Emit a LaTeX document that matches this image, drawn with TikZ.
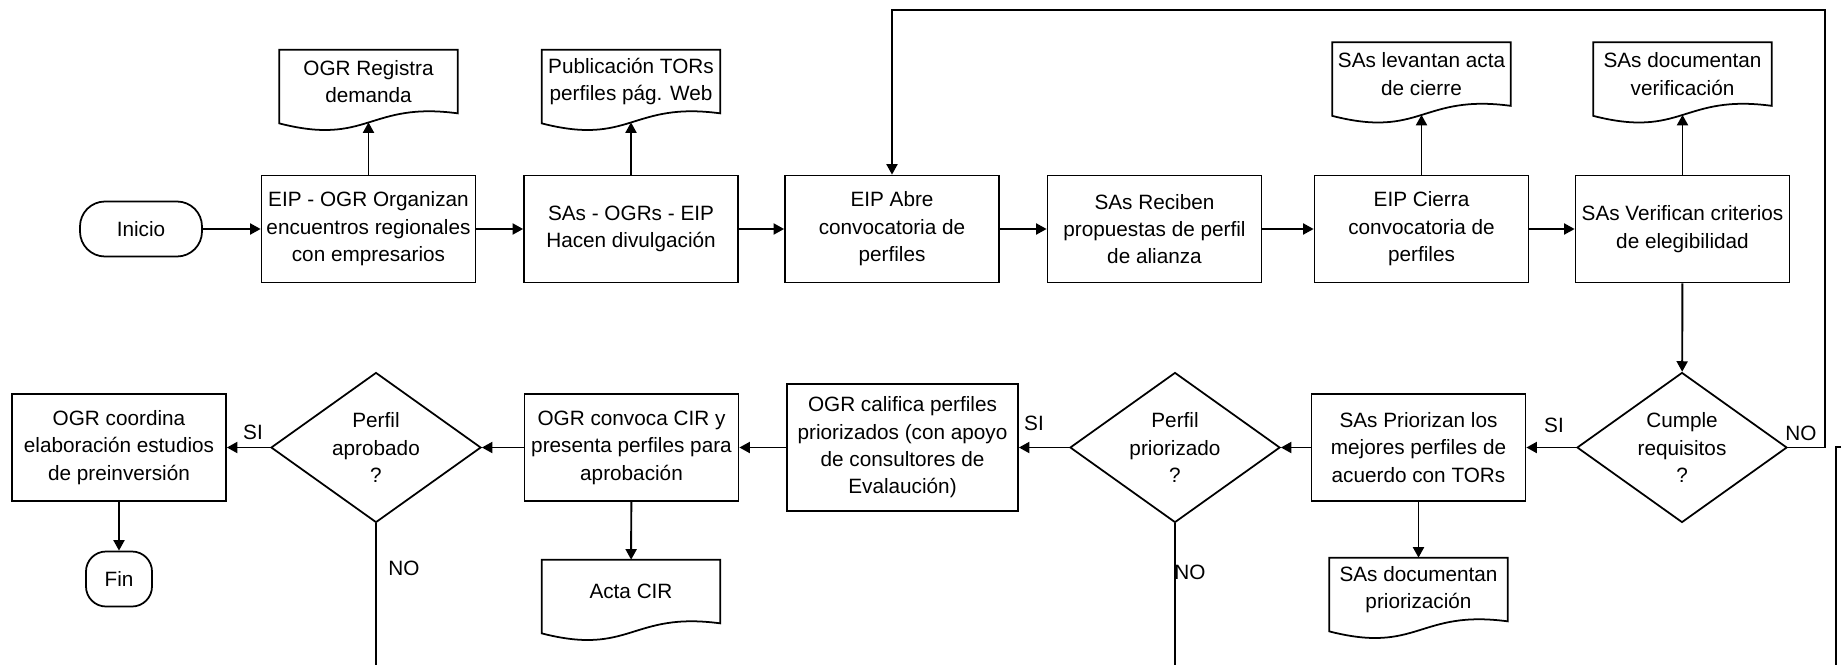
\documentclass[tikz,border=0pt]{standalone}
\usepackage{fontspec}
\setmainfont{Liberation Sans}
\usepackage{tikz}
\usetikzlibrary{calc,arrows.meta,shapes.geometric}

\begin{document}
\begin{tikzpicture}[every node/.style={font=\fontsize{11.8}{15.6}\selectfont, align=center},
  procbox/.style={draw, line width=1pt, minimum width=4.28cm, minimum height=2.14cm, inner sep=1pt},
  docbox/.style={minimum width=3.56cm, minimum height=1.26cm, inner sep=1pt},
  decbox/.style={draw, diamond, aspect=1.4, line width=1pt, minimum width=4.2cm, minimum height=3cm, inner sep=0pt},
  termbox/.style={draw, line width=1pt, minimum height=1.1cm},
  flow/.style={line width=1.1pt, -{Triangle[length=0.21cm, width=0.22cm]}}]
  \useasboundingbox (0,0) rectangle (36.94,-13.3);

  \node[termbox, rounded corners=0.5cm, minimum width=2.44cm] (inicio) at (2.82,-4.58) {Inicio};
  \node[procbox] (orgEnc) at (7.37,-4.58) {EIP - OGR Organizan\\encuentros regionales\\con empresarios};
  \node[procbox] (divul) at (12.62,-4.58) {SAs - OGRs - EIP\\Hacen divulgación};
  \node[procbox] (abre) at (17.84,-4.58) {EIP Abre\\convocatoria de\\perfiles};
  \node[procbox] (recib) at (23.09,-4.58) {SAs Reciben\\propuestas de perfil\\de alianza};
  \node[procbox] (cierra) at (28.43,-4.58) {EIP Cierra\\convocatoria de\\perfiles};
  \node[procbox] (verif) at (33.65,-4.58) {SAs Verifican criterios\\de elegibilidad};

  \node[docbox] (dReg) at (7.37,-1.63) {OGR Registra\\demanda};
  \node[docbox] (dPub) at (12.62,-1.63) {Publicación TORs\\perfiles pág. Web};
  \node[docbox] (dCie) at (28.43,-1.48) {SAs levantan acta\\de cierre};
  \node[docbox] (dVer) at (33.65,-1.48) {SAs documentan\\verificación};

  \node[decbox] (qCum) at (33.64,-8.95) {Cumple\\requisitos\\?};
  \node[procbox] (prioriz) at (28.37,-8.95) {SAs Priorizan los\\mejores perfiles de\\acuerdo con TORs};
  \node[docbox] (dPri) at (28.37,-11.79) {SAs documentan\\priorización};
  \node[decbox] (qPri) at (23.5,-8.95) {Perfil\\priorizado\\?};
  \node[procbox, minimum width=4.62cm, minimum height=2.54cm] (calif) at (18.05,-8.95)
    {OGR califica perfiles\\priorizados (con apoyo\\de consultores de\\Evalaución)};
  \node[procbox] (convoca) at (12.63,-8.95) {OGR convoca CIR y\\presenta perfiles para\\aprobación};
  \node[docbox] (dActa) at (12.62,-11.83) {Acta CIR};
  \node[decbox] (qApr) at (7.52,-8.95) {Perfil\\aprobado\\?};
  \node[procbox] (coord) at (2.38,-8.95) {OGR coordina\\elaboración estudios\\de preinversión};
  \node[termbox, rounded corners=0.4cm, minimum width=1.32cm] (fin) at (2.38,-11.58) {Fin};

  \foreach \d in {dReg,dPub,dCie,dVer,dPri,dActa}
    \draw[line width=1pt] (\d.south east) .. controls ($(\d.south)+(0,0.24)$)
      and ($(\d.south)+(0,-0.66)$) .. ($(\d.south west)+(0,-0.2)$)
      -- (\d.north west) -- (\d.north east) -- cycle;

  \coordinate (noRight) at (36.5,-0.2);
  \coordinate (aprEnd) at (7.52,-13.3);
  \coordinate (priEnd) at (23.5,-13.3);
  \coordinate (sideTick) at (36.82,-8.94);
  \coordinate (sideBend) at (36.72,-8.94);
  \coordinate (sideEnd) at (36.72,-13.3);

  \draw[flow] (inicio) -- (orgEnc);
  \draw[flow] (orgEnc) -- (divul);
  \draw[flow] (divul) -- (abre);
  \draw[flow] (abre) -- (recib);
  \draw[flow] (recib) -- (cierra);
  \draw[flow] (cierra) -- (verif);
  \draw[flow, shorten >=0.18cm] (orgEnc) -- (dReg);
  \draw[flow, shorten >=0.18cm] (divul) -- (dPub);
  \draw[flow, shorten >=0.18cm] (cierra) -- (dCie);
  \draw[flow, shorten >=0.18cm] (verif) -- (dVer);
  \draw[flow] (verif) -- (qCum);
  \draw[flow] (qCum.east) -| (noRight) -| (abre.north);
  \draw[flow] (qCum) -- (prioriz);
  \draw[flow] (prioriz) -- (dPri);
  \draw[flow] (prioriz) -- (qPri);
  \draw[flow] (qPri) -- (calif);
  \draw[flow] (calif) -- (convoca);
  \draw[flow] (convoca) -- (dActa);
  \draw[flow] (convoca) -- (qApr);
  \draw[flow] (qApr) -- (coord);
  \draw[flow] (coord) -- (fin);
  \draw[line width=1.1pt] (qApr.south) -- (aprEnd);
  \draw[line width=1.1pt] (qPri.south) -- (priEnd);
  \draw[line width=1.1pt] (sideTick) -- (sideBend) -- (sideEnd);

  \node (siCum) at (31.08,-8.5) {SI};
  \node (noCum) at (36.02,-8.66) {NO};
  \node (siPri) at (20.68,-8.46) {SI};
  \node (noPri) at (23.8,-11.44) {NO};
  \node (siApr) at (5.06,-8.64) {SI};
  \node (noApr) at (8.08,-11.36) {NO};
\end{tikzpicture}
\end{document}
